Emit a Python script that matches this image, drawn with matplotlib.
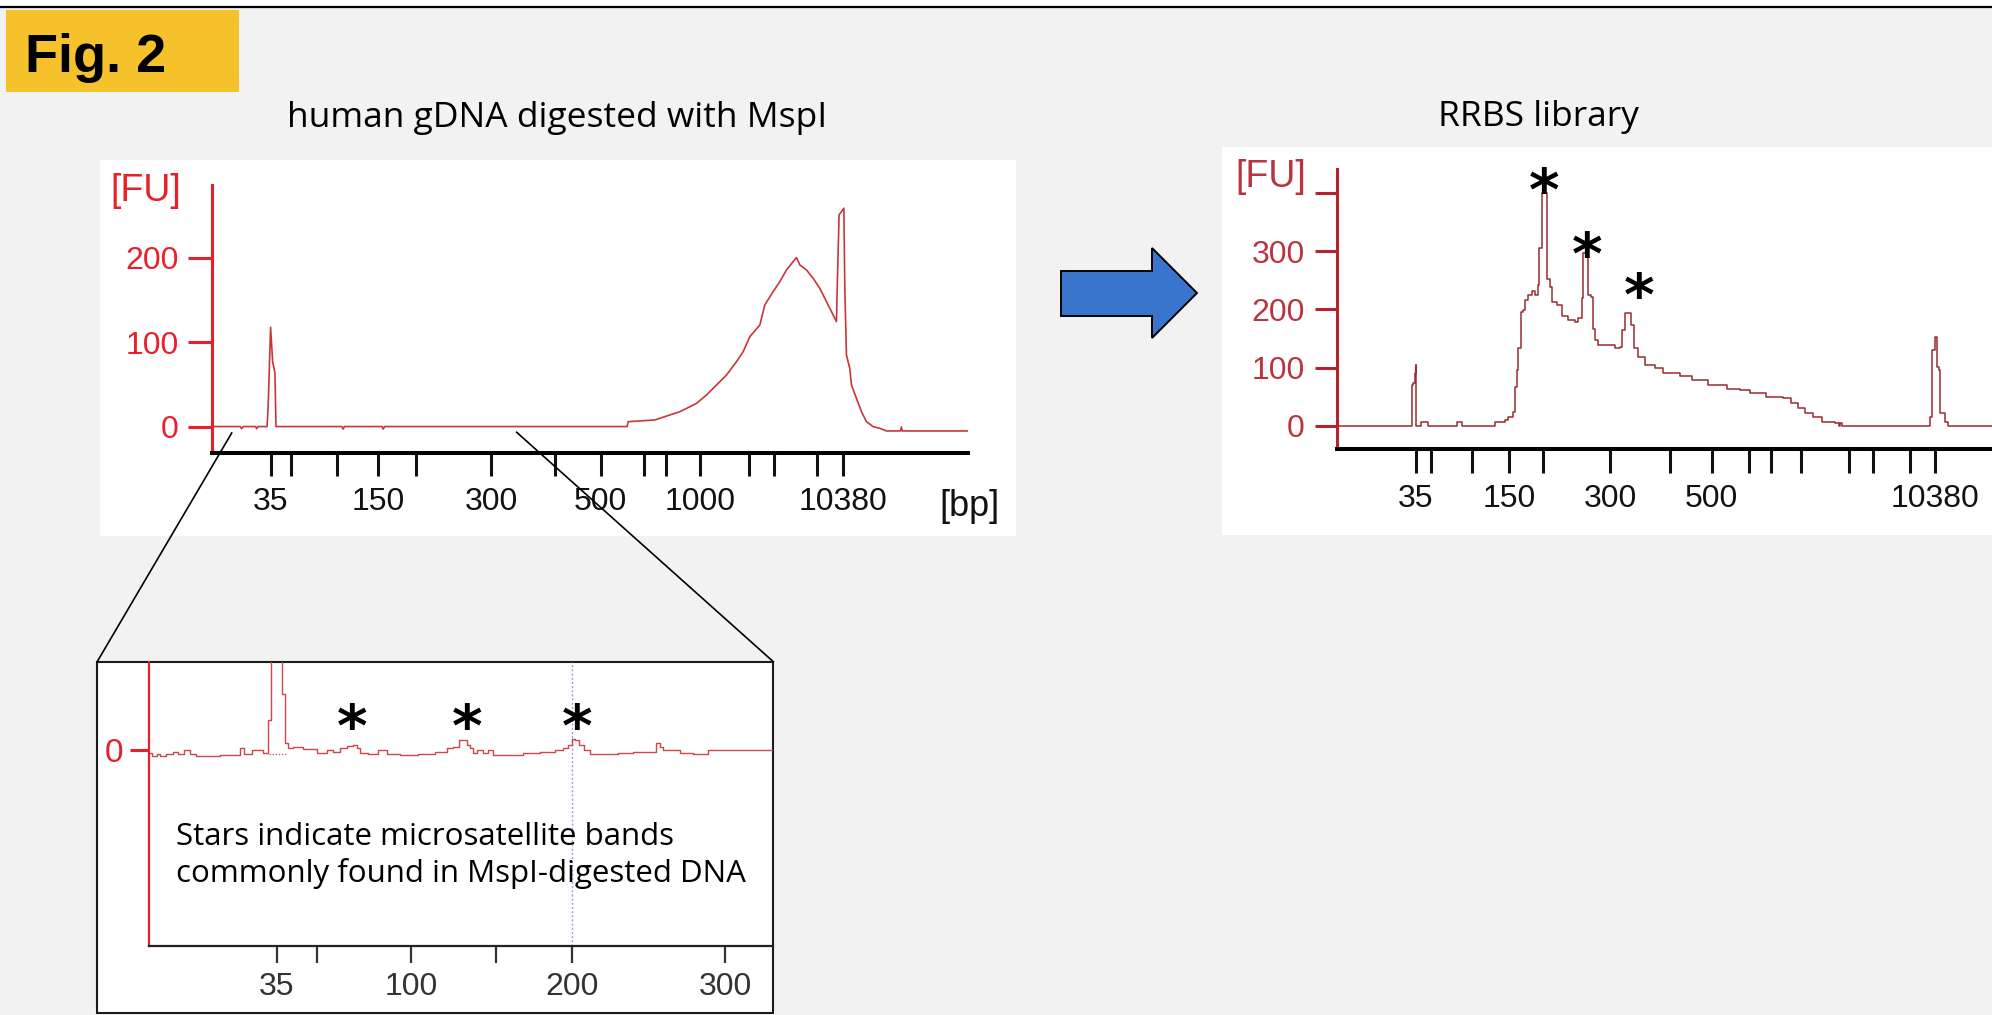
import matplotlib
matplotlib.use('Agg')
import matplotlib.pyplot as plt
from matplotlib.patches import Rectangle, Polygon
from matplotlib.lines import Line2D

plt.rcParams['font.family'] = ['Liberation Sans', 'DejaVu Sans']

# ---------------- data ----------------
ladder_bp = [35, 50, 100, 150, 200, 300, 400, 500, 600, 700, 1000, 2000, 3000, 7000, 10380]
# migration times (s) of the ladder peaks in each run
gdna_ladder_time = [43.0, 45.34, 50.72, 55.58, 59.97, 68.75, 76.24, 81.62, 86.65, 89.23,
                    93.21, 98.94, 101.87, 106.90, 110.0]
rrbs_ladder_time = [43.0, 45.0, 50.23, 55.0, 59.4, 68.05, 75.8, 81.2, 86.0, 88.8,
                    92.7, 98.9, 102.0, 106.8, 110.0]
gdna_labeled = [35, 150, 300, 500, 1000, 10380]
rrbs_labeled = [35, 150, 300, 500, 10380]
inset_labeled = [35, 100, 200, 300]

# human gDNA digested with MspI (FU vs time)
gdna_time = [36.1, 39.4, 39.57, 39.75, 41.2, 41.33, 41.5, 42.55, 42.68, 42.96, 43.2, 43.47,
             43.59, 51.3, 51.46, 51.6, 56.0, 56.14, 56.3, 84.7, 84.82, 87.94, 88.53, 89.70,
             90.87, 92.04, 92.82, 93.99, 95.16, 96.33, 97.50, 98.28, 99.06, 100.23, 100.81,
             101.79, 102.57, 103.35, 104.13, 104.52, 104.91, 105.69, 106.47, 107.25, 108.03,
             108.62, 109.20, 109.32, 109.51, 109.79, 110.07, 110.18, 110.37, 110.76, 110.96,
             111.54, 112.13, 112.71, 113.49, 114.27, 115.05, 116.7, 116.8, 116.9, 124.6]
gdna_fu = [0.5, 0.5, -2.0, 0.5, 0.5, -2.0, 0.5, 0.5, 26, 118, 77, 64,
           0.5, 0.5, -2.5, 0.5, 0.5, -2.5, 0.5, 0.5, 6.3, 8.3, 10.3, 14.2,
           18.1, 24, 28, 37.9, 49.7, 61.5, 77.3, 89.1, 106.9, 120.7, 144.4,
           160.2, 172, 185.8, 195.7, 200.5, 191.8, 185.8, 176, 164.1, 148.4,
           136.5, 124.7, 176, 251, 254.9, 258.9, 164.1, 85.2, 69.4, 49.7,
           33.9, 18.1, 6.3, 0.4, -1.6, -4.7, -4.7, 0.0, -4.7, -4.7]

# RRBS library (FU vs time)
rrbs_time = [32.76, 42.35, 42.44, 42.65, 42.87, 42.96, 43.05, 43.6, 43.7, 44.4,
             44.5, 48.2, 48.3, 48.9, 49.0, 52.98, 53.2, 54.5, 54.9, 55.48,
             55.78, 55.99, 56.12, 56.4, 56.56, 56.85, 57.07, 57.5, 57.94, 58.36,
             58.7, 58.88, 59.23, 59.3, 59.78, 59.87, 60.3, 60.52, 61.16, 61.81,
             62.67, 63.53, 63.96, 64.39, 64.6, 65.04, 65.17, 65.6, 65.81, 66.11,
             66.54, 67.83, 68.7, 69.34, 69.56, 69.98, 70.63, 70.72, 71.06, 71.18,
             71.7, 72.56, 73.85, 74.93, 77.08, 78.59, 80.74, 83.11, 84.83, 86.12,
             88.27, 90.42, 91.5, 92.35, 93.22, 94.3, 95.38, 97.1, 97.6, 97.8,
             98.0, 109.14, 109.36, 109.7, 110.0, 110.3, 110.56, 110.74, 111.3, 111.72,
             117.4]
rrbs_fu = [0, 0, 70, 73, 90, 104, 0, 0, 6, 6,
           0, 0, 6, 6, 0, 0, 6.9, 9.8, 15.5, 24,
           67, 96, 133, 133, 196, 199, 216, 225, 231, 225,
           242, 305, 308, 400, 400, 253, 239, 213, 208, 188,
           182, 179, 185, 219, 297, 297, 225, 222, 167, 147,
           139, 139, 133, 136, 165, 193.5, 193.5, 173, 173, 133,
           118, 104, 98.6, 91, 86, 79, 70, 64, 61, 56,
           50, 47, 38.5, 30, 21, 15.5, 7, 5, 0, 5,
           0, 0, 15.5, 130, 153, 101, 95.6, 21, 7, 0,
           0]

# zoomed view of the gDNA run, 35-300 bp region
inset_time = [35.70, 36.03, 36.22, 36.41, 36.89, 37.27, 37.46, 37.94, 38.13, 38.61,
              39.57, 39.95, 40.72, 41.10, 41.19, 42.05, 42.44, 42.62, 42.80, 43.01,
              43.25, 43.39, 43.59, 43.77, 44.16, 44.92, 45.69, 46.07, 46.45, 46.83,
              47.22, 47.50, 47.69, 47.89, 48.55, 49.13, 49.51, 50.66, 51.62, 52.57,
              52.95, 53.34, 53.62, 53.81, 54.0, 54.2, 54.29, 54.67, 54.96, 55.25,
              55.54, 56.78, 57.54, 58.69, 59.26, 59.65, 59.84, 60.03, 60.22, 60.51,
              60.80, 61.17, 62.32, 62.90, 64.04, 64.62, 64.90, 65.10, 65.29, 65.96,
              66.34, 67.49, 68.06, 69.21, 70.35, 71.50]
inset_fu = [-0.67, -1.2, -0.8, -1.2, -0.8, -0.33, -0.8, 0.0, -0.8, -1.2,
            -1.2, -1.07, -1.0, 0.33, -0.8, 0.0, -0.67, 6.0, 60, 118,
            40, 11.3, 1.33, 0.33, 0.53, 0.13, -0.67, 0.0, -0.33, 0.33,
            0.8, 1.0, 0.33, -0.67, -0.8, 0.0, -0.8, -1.0, -0.8, -0.33,
            0.33, 0.67, 2.0, 2.0, 1.0, 0.33, -0.67, 0.0, -0.67, 0.0,
            -1.0, -1.0, -0.67, -0.33, 0.0, 0.33, 1.0, 2.13, 2.0, 1.0,
            0.0, -0.8, -0.8, -0.53, -0.33, -0.33, 1.47, 0.67, 0.0, 0.0,
            -0.67, -0.8, 0.0, 0.0, 0.0, 0.0]

# ---------------- layout helpers ----------------
W, H = 1992, 1015
fig = plt.figure(figsize=(W / 100, H / 100), dpi=100, facecolor='#F2F2F2')


def fx(px):
    return px / W


def fy(py):
    return 1 - py / H


def box(x0, y0, x1, y1):
    return [fx(x0), fy(y1), (x1 - x0) / W, (y1 - y0) / H]


def fig_rect(x0, y0, x1, y1, z=-10, **kw):
    r = Rectangle((fx(x0), fy(y1)), (x1 - x0) / W, (y1 - y0) / H,
                  transform=fig.transFigure, zorder=z, **kw)
    fig.add_artist(r)
    return r


RED = '#E8202A'
DRED = '#B42330'
BODY = ['Open Sans', 'DejaVu Sans']
STAR_FS = 42


def star(px, py):
    # py = visual centre of the asterisk
    fig.text(fx(px), fy(py + 0.575 * STAR_FS * 100 / 72), '*', ha='center', va='baseline',
             fontsize=STAR_FS, family=['DejaVu Sans'], weight='bold', color='black',
             zorder=30)


# ---------------- header ----------------
fig_rect(0, 0, W, 6, facecolor='white', edgecolor='none')
fig.add_artist(Line2D([0, 1], [fy(7), fy(7)], transform=fig.transFigure, color='black', lw=1.6))
fig_rect(6, 10, 239, 92, facecolor='#F6C22C', edgecolor='none')
fig.text(fx(96), fy(72), 'Fig. 2', ha='center', va='baseline', fontsize=39, weight='bold',
         color='black')

fig.text(fx(557), fy(127), 'human gDNA digested with MspI', ha='center', va='baseline',
         fontsize=25.5, family=BODY, weight='normal', color='black')
fig.text(fx(1538), fy(126), 'RRBS library', ha='center', va='baseline',
         fontsize=25.5, family=BODY, weight='normal', color='black')

# ---------------- left chart: gDNA ----------------
fig_rect(100, 160, 1016, 536, facecolor='white', edgecolor='none')
ax = fig.add_axes(box(212, 185, 968, 453))
ax.set_facecolor('none')
ax.plot(gdna_time, gdna_fu, color='#C8363A', lw=1.2)
ax.set_xlim(36.1, 124.6)
ax.set_ylim(-30.8, 286.4)
for s in ('top', 'right'):
    ax.spines[s].set_visible(False)
ax.spines['left'].set_color(RED)
ax.spines['left'].set_linewidth(2.2)
ax.spines['bottom'].set_color('black')
ax.spines['bottom'].set_linewidth(2.9)
ax.set_yticks([0, 100, 200])
ax.tick_params(axis='y', length=17, width=2.2, color=RED, labelcolor=RED, labelsize=23, pad=7)
ax.set_xticks(gdna_ladder_time)
ax.set_xticklabels([str(b) if b in gdna_labeled else '' for b in ladder_bp])
ax.tick_params(axis='x', length=16.5, width=2.2, color='#111111', labelcolor='#111111',
               labelsize=23, pad=8)
fig.text(fx(146), fy(201), '[FU]', ha='center', va='baseline', fontsize=27, color=RED)
fig.text(fx(969), fy(516), '[bp]', ha='center', va='baseline', fontsize=26, color='#111111')

# ---------------- arrow ----------------
arrow_px = [(1061, 271), (1152, 271), (1152, 248), (1197, 293), (1152, 338), (1152, 316),
            (1061, 316)]
fig.add_artist(Polygon([(fx(x), fy(y)) for x, y in arrow_px], closed=True,
                       transform=fig.transFigure, facecolor='#3A75CD', edgecolor='black',
                       lw=1.4, zorder=5))

# ---------------- right chart: RRBS ----------------
fig_rect(1222, 147, 1992, 535, facecolor='white', edgecolor='none')
ax2 = fig.add_axes(box(1336.7, 169, 1992, 449))
ax2.set_facecolor('none')
ax2.plot(rrbs_time, rrbs_fu, color='#962E32', lw=1.1, drawstyle='steps-post')
ax2.set_xlim(32.76, 117.4)
ax2.set_ylim(-40.1, 441.8)
for s in ('top', 'right'):
    ax2.spines[s].set_visible(False)
ax2.spines['left'].set_color(DRED)
ax2.spines['left'].set_linewidth(2.2)
ax2.spines['bottom'].set_color('black')
ax2.spines['bottom'].set_linewidth(2.9)
ax2.set_yticks([0, 100, 200, 300, 400])
ax2.set_yticklabels(['0', '100', '200', '300', ''])
ax2.tick_params(axis='y', length=16, width=2.2, color=DRED, labelcolor='#B93440',
                labelsize=23, pad=7)
ax2.set_xticks(rrbs_ladder_time)
ax2.set_xticklabels([str(b) if b in rrbs_labeled else '' for b in ladder_bp])
ax2.tick_params(axis='x', length=17, width=2.2, color='#111111', labelcolor='#111111',
                labelsize=23, pad=8.5)
fig.text(fx(1271), fy(187), '[FU]', ha='center', va='baseline', fontsize=27, color='#B93440')
star(1544, 176)
star(1587, 240)
star(1639, 281)

# ---------------- inset: zoom of 35-300 bp ----------------
fig_rect(97, 662, 773, 1013, z=-5, facecolor='white', edgecolor='#1A1A1A', lw=1.5)
ax3 = fig.add_axes(box(149.3, 662, 773, 946))
ax3.set_facecolor('none')
ax3.plot(inset_time, inset_fu, color='#D0464A', lw=1.0, drawstyle='steps-mid')
ax3.hlines(-0.8, 42.55, 43.6, colors='#D0464A', linestyles=(0, (1, 1.5)), lw=0.9)
ax3.axvline(gdna_ladder_time[ladder_bp.index(200)], color='#9AA0D0', ls=(0, (1.5, 1.5)),
            lw=1.0, zorder=1)
ax3.set_xlim(35.70, 71.48)
ax3.set_ylim(-39.2, 17.6)
for s in ('top', 'right'):
    ax3.spines[s].set_visible(False)
ax3.spines['left'].set_color(RED)
ax3.spines['left'].set_linewidth(1.6)
ax3.spines['bottom'].set_color('#222222')
ax3.spines['bottom'].set_linewidth(1.6)
ax3.set_yticks([0])
ax3.tick_params(axis='y', length=13.5, width=2.2, color=RED, labelcolor=RED, labelsize=24,
                pad=5)
inset_bp = [b for b in ladder_bp if b <= 300]
ax3.set_xticks([gdna_ladder_time[ladder_bp.index(b)] for b in inset_bp])
ax3.set_xticklabels([str(b) if b in inset_labeled else '' for b in inset_bp])
ax3.tick_params(axis='x', length=12, width=1.6, color='#333333', labelcolor='#333333',
                labelsize=23, pad=6.5)
star(352, 712)
star(467, 712)
star(577, 712)
fig.text(fx(176), fy(845), 'Stars indicate microsatellite bands', ha='left', va='baseline',
         fontsize=22.5, family=BODY, weight='normal', color='black')
fig.text(fx(176), fy(882), 'commonly found in MspI-digested DNA', ha='left', va='baseline',
         fontsize=22.5, family=BODY, weight='normal', color='black')

# connector lines from the gDNA trace to the inset
for (x0, y0), (x1, y1) in [((231.7, 433), (97, 662)), ((516.7, 432.3), (773.3, 661.7))]:
    fig.add_artist(Line2D([fx(x0), fx(x1)], [fy(y0), fy(y1)], transform=fig.transFigure,
                          color='black', lw=1.2, zorder=20))

fig.savefig('out.png', dpi=100, facecolor=fig.get_facecolor())
